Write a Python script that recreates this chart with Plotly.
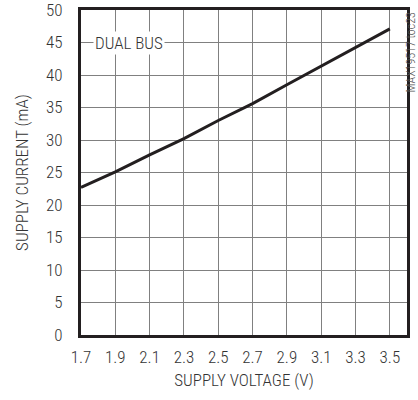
import plotly.graph_objects as go

voltage = [1.7, 1.9, 2.1, 2.3, 2.5, 2.7, 2.9, 3.1, 3.3, 3.5]
current = [22.7, 25.1, 27.7, 30.2, 33.0, 35.6, 38.5, 41.4, 44.3, 47.1]
x_ticks = [1.7, 1.9, 2.1, 2.3, 2.5, 2.7, 2.9, 3.1, 3.3, 3.5]
y_ticks = [0, 5, 10, 15, 20, 25, 30, 35, 40, 45, 50]

FONT = "Roboto Condensed, Liberation Sans Narrow, Arial Narrow, sans-serif"
TXT = "#333333"

fig = go.Figure()
fig.add_trace(go.Scatter(x=voltage, y=current, mode="lines",
                         line=dict(color="#231f20", width=3), showlegend=False))

fig.update_layout(
    width=418, height=400,
    margin=dict(l=81, r=11, t=10, b=65),
    paper_bgcolor="white", plot_bgcolor="white",
    font=dict(family=FONT, size=17, color=TXT, weight=300),
    xaxis=dict(range=[1.7, 3.6], tickvals=x_ticks, ticktext=[f"{v:.1f}" for v in x_ticks],
               showgrid=True, gridcolor="#808080", gridwidth=1,
               showline=True, linecolor="#231f20", linewidth=3, mirror=True,
               zeroline=False, ticks="", ticklabelstandoff=5, automargin=False,
               ticklabeloverflow="allow",
               tickfont=dict(size=17, color=TXT, family=FONT, weight=300),
               title=dict(text="SUPPLY VOLTAGE (V)", standoff=8,
                          font=dict(size=17, color=TXT, family=FONT, weight=300))),
    yaxis=dict(range=[0, 50], tickvals=y_ticks,
               showgrid=True, gridcolor="#808080", gridwidth=1,
               showline=True, linecolor="#231f20", linewidth=3, mirror=True,
               zeroline=False, ticks="", ticklabelstandoff=12, automargin=False,
               ticklabeloverflow="allow",
               tickfont=dict(size=17, color=TXT, family=FONT, weight=300),
               title=dict(text="SUPPLY CURRENT (mA)", standoff=14,
                          font=dict(size=17, color=TXT, family=FONT, weight=300))),
    annotations=[
        dict(x=1.98, y=45, xref="x", yref="y", text="DUAL BUS", showarrow=False,
             bgcolor="white", borderpad=1,
             font=dict(size=17, family=FONT, color=TXT, weight=300)),
        dict(x=1.0, y=1.0, xref="paper", yref="paper", xanchor="right", yanchor="top",
             xshift=12, yshift=0, text="MAX19517 toc23", textangle=-90, showarrow=False,
             font=dict(size=12, family=FONT, color="#555555", weight=300)),
    ],
)

fig.write_html("out.html", config={"displayModeBar": False},
               post_script="document.body.style.margin='0';")
